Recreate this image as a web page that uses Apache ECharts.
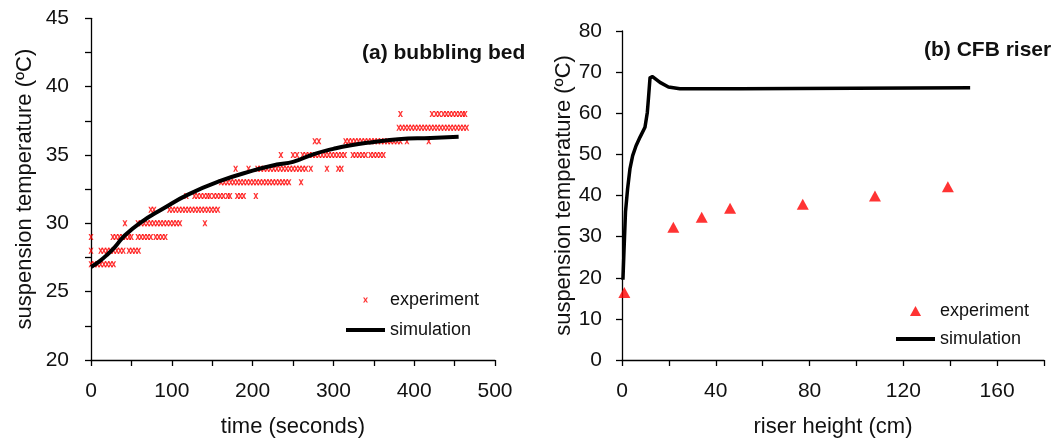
<!DOCTYPE html>
<html><head><meta charset="utf-8">
<script src="https://cdn.jsdelivr.net/npm/echarts@6/dist/echarts.min.js"></script>
<style>html,body{margin:0;padding:0;background:#fff}#c{width:1055px;height:443px}</style>
</head><body><div id="c"></div>
<script>
// ---------- (a) bubbling bed ----------
const xTickLabelsA = [0, 100, 200, 300, 400, 500];
const yTickLabelsA = [20, 25, 30, 35, 40, 45];
// experiment: times (s) at which each integer temperature (°C) was recorded
const exp27 = [0,4,8,12,16,20,24,28];
const exp28 = [0,12,16,20,24,28,32,36,40,47,51,55,59];
const exp29 = [0,27,31,35,39,43,47,50,58,62,66,70,74,80,84,88,92];
const exp30 = [42,58,62,66,70,74,78,82,86,90,94,98,102,106,110,141];
const exp31 = [74,78,97,101,105,109,113,117,121,125,129,133,137,141,145,149,153,157];
const exp32 = [118,128,132,136,140,144,147,152,156,160,164,169,172,181,185,189,204];
const exp33 = [161,165,169,173,177,181,185,189,193,197,201,205,209,213,217,221,225,229,233,237,241,245,260];
const exp34 = [179,195,206,210,214,218,222,226,230,234,238,242,246,250,254,258,262,266,272,292,306,310];
const exp35 = [235,250,255,262,266,270,274,278,282,286,290,294,298,302,306,310,314,324,328,332,336,340,346,350,354,358,362];
const exp36 = [277,282,315,319,323,327,331,335,339,343,347,351,355,359,363,367,371,375,379,383,391,418];
const exp37 = [381,385,389,393,397,401,405,409,413,417,421,425,429,433,437,441,445,449,453,457,461,465];
const exp38 = [383,422,427,431,436,440,444,448,452,456,460,463];
const simTimeA = [0,10,20,30,40,60,90,120,160,200,230,250,275,300,320,350,380,420,455];
const simTempA = [26.8,27.2,27.7,28.3,29.0,30.0,31.1,32.1,33.1,33.85,34.3,34.5,35.05,35.45,35.7,35.95,36.15,36.25,36.33];

// ---------- (b) CFB riser ----------
const xTickLabelsB = [0, 40, 80, 120, 160];
const expHeightB = [1.0, 21.9, 34.0, 46.1, 77.1, 107.9, 139.0];
const expTempB = [16.4, 32.3, 34.7, 36.9, 37.9, 39.9, 42.1];
const simHeightB = [0.4,0.85,1.5,2.4,3.4,4.55,6.0,7.7,9.8,10.8,11.25,11.95,13.0,13.7,16.2,19.8,24.7,50.3,51.0,148.5];
const simTempB = [19.5,26.5,36.1,41.7,46.5,49.7,52.1,54.2,56.6,60.2,63.4,68.6,68.9,68.8,67.5,66.4,65.95,65.95,66.2,66.2];

const FONT = '"Liberation Sans", Arial, sans-serif';
const TXT = '#111';
const X_PATH = 'path://M0,0L3,0L5,3L7,0L10,0L6.5,5L10,10L7,10L5,7L3,10L0,10L3.5,5Z';
const TRI_PATH = 'path://M5,0L10,9L0,9Z';
const LINE_ICON = 'path://M0,0H40V4H0Z';

const expRows = [[27,exp27],[28,exp28],[29,exp29],[30,exp30],[31,exp31],[32,exp32],
                 [33,exp33],[34,exp34],[35,exp35],[36,exp36],[37,exp37],[38,exp38]];
const expA = [];
expRows.forEach(([temp, times]) => times.forEach(t => expA.push([t, temp])));
const simA = simTimeA.map((t, i) => [t, simTempA[i]]);
const expB = expHeightB.map((h, i) => [h, expTempB[i]]);
const simB = simHeightB.map((h, i) => [h, simTempB[i]]);

const axisLine = {show: true, onZero: false, lineStyle: {color: '#000', width: 1.3}};
const axisTick = {show: true, length: 6, lineStyle: {color: '#000', width: 1.3}};
const labelStyle = {fontSize: 21, fontFamily: FONT, color: TXT};
const nameStyle = {fontSize: 22, fontFamily: FONT, color: TXT};

const chart = echarts.init(document.getElementById('c'), null, {renderer: 'canvas'});
chart.setOption({
  animation: false,
  backgroundColor: '#fff',
  title: [
    {text: '(a) bubbling bed', left: 362, top: 43, padding: 0,
     textStyle: {fontSize: 21, fontWeight: 'bold', fontFamily: FONT, color: TXT}},
    {text: '(b) CFB riser', left: 924, top: 40, padding: 0,
     textStyle: {fontSize: 21, fontWeight: 'bold', fontFamily: FONT, color: TXT}}
  ],
  legend: [
    {left: 346, top: 290, orient: 'vertical', padding: 0, itemWidth: 39, itemHeight: 5, itemGap: 10,
     selectedMode: false,
     data: [{name: 'experiment', icon: X_PATH}, {name: 'simulation', icon: LINE_ICON}],
     textStyle: {fontSize: 18, lineHeight: 20, fontFamily: FONT, color: TXT}},
    {left: 896, top: 301, orient: 'vertical', padding: 0, itemWidth: 39, itemHeight: 10, itemGap: 8,
     selectedMode: false,
     data: [{name: 'experiment', icon: TRI_PATH}, {name: 'simulation', icon: LINE_ICON}],
     textStyle: {fontSize: 18, lineHeight: 20, fontFamily: FONT, color: TXT}}
  ],
  grid: [
    {left: 91, top: 18.3, width: 404, height: 344.4},
    {left: 622, top: 31, width: 422, height: 332.3}
  ],
  xAxis: [
    {gridIndex: 0, type: 'value', min: 0, max: 500, interval: 50,
     name: 'time (seconds)', nameLocation: 'middle', nameGap: 56, nameTextStyle: nameStyle,
     axisLine, axisTick, splitLine: {show: false},
     axisLabel: Object.assign({margin: 21, formatter: v => xTickLabelsA.includes(v) ? String(v) : ''}, labelStyle)},
    {gridIndex: 1, type: 'value', min: 0, max: 180, interval: 20,
     name: 'riser height (cm)', nameLocation: 'middle', nameGap: 56, nameTextStyle: nameStyle,
     axisLine, axisTick, splitLine: {show: false},
     axisLabel: Object.assign({margin: 21, formatter: v => xTickLabelsB.includes(v) ? String(v) : ''}, labelStyle)}
  ],
  yAxis: [
    {gridIndex: 0, type: 'value', min: 20, max: 45, interval: 2.5,
     name: 'suspension temperature (ºC)', nameLocation: 'middle', nameGap: 55, nameTextStyle: nameStyle,
     axisLine, axisTick, splitLine: {show: false},
     axisLabel: Object.assign({margin: 22, formatter: v => yTickLabelsA.includes(v) ? String(v) : ''}, labelStyle)},
    {gridIndex: 1, type: 'value', min: 0, max: 80, interval: 10,
     name: 'suspension temperature (ºC)', nameLocation: 'middle', nameGap: 44, nameTextStyle: nameStyle,
     axisLine, axisTick, splitLine: {show: false},
     axisLabel: Object.assign({margin: 20}, labelStyle)}
  ],
  series: [
    {name: 'experiment', type: 'scatter', xAxisIndex: 0, yAxisIndex: 0, data: expA,
     symbol: X_PATH, symbolSize: [5, 6], itemStyle: {color: '#ff0000'}, z: 2},
    {name: 'simulation', type: 'line', xAxisIndex: 0, yAxisIndex: 0, data: simA,
     symbol: 'none', showSymbol: false, smooth: true, color: '#000',
     lineStyle: {color: '#000', width: 4}, z: 3},
    {name: 'experiment', type: 'scatter', xAxisIndex: 1, yAxisIndex: 1, data: expB,
     symbol: TRI_PATH, symbolSize: [12, 11], itemStyle: {color: '#ff0000'}, z: 2},
    {name: 'simulation', type: 'line', xAxisIndex: 1, yAxisIndex: 1, data: simB,
     symbol: 'none', showSymbol: false, smooth: false, color: '#000',
     lineStyle: {color: '#000', width: 3.5, join: 'round'}, z: 3}
  ]
});
</script>
</body></html>
